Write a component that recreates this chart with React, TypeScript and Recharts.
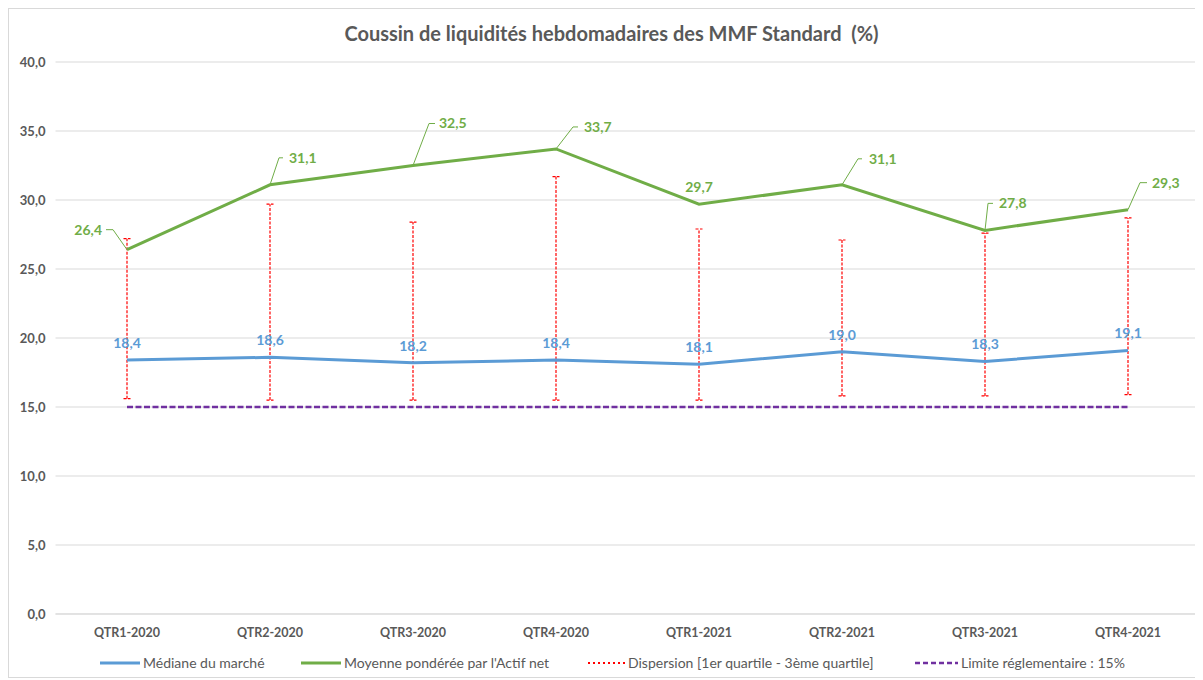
import React from 'react';
import { LineChart, Line, XAxis, YAxis, CartesianGrid, ErrorBar, LabelList } from 'recharts';

const categories = ['QTR1-2020', 'QTR2-2020', 'QTR3-2020', 'QTR4-2020', 'QTR1-2021', 'QTR2-2021', 'QTR3-2021', 'QTR4-2021'];
const medianeMarche = [18.4, 18.6, 18.2, 18.4, 18.1, 19.0, 18.3, 19.1];
const moyennePonderee = [26.4, 31.1, 32.5, 33.7, 29.7, 31.1, 27.8, 29.3];
const quartile1 = [15.6, 15.5, 15.5, 15.5, 15.5, 15.8, 15.8, 15.9];
const quartile3 = [27.2, 29.7, 28.4, 31.7, 27.9, 27.1, 27.6, 28.7];
const limiteReglementaire = [15, 15, 15, 15, 15, 15, 15, 15];
const yTicks = [0, 5, 10, 15, 20, 25, 30, 35, 40];

const titleText = 'Coussin de liquidités hebdomadaires des MMF Standard  (%)';
const legendLabels = [
  'Médiane du marché',
  "Moyenne pondérée par l'Actif net",
  'Dispersion [1er quartile - 3ème quartile]',
  'Limite réglementaire : 15%',
];

// label placement styles for green labels (pixel offsets relative to the point)
const greenLabelStyle = [
  { leader: true, ex: -14, ey: -20, hx: -21, tx: -25, anchor: 'end' },
  { leader: true, ex: 9, ey: -27, hx: 13, tx: 19, anchor: 'start' },
  { leader: true, ex: 16, ey: -42, hx: 22, tx: 26, anchor: 'start' },
  { leader: true, ex: 17, ey: -22, hx: 22, tx: 28, anchor: 'start' },
  { leader: false, ex: 0, ey: -17, hx: 0, tx: 0, anchor: 'middle' },
  { leader: true, ex: 16, ey: -26, hx: 20, tx: 27, anchor: 'start' },
  { leader: true, ex: 3, ey: -27, hx: 8, tx: 14, anchor: 'start' },
  { leader: true, ex: 12, ey: -27, hx: 19, tx: 24, anchor: 'start' },
];

const BLUE = '#5B9BD5';
const GREEN = '#70AD47';
const RED = '#FF0000';
const PURPLE = '#7030A0';
const GRID = '#D9D9D9';
const TEXT = '#595959';
const FONT = 'Lato, "Open Sans", sans-serif';

const fmt = (v: number) => v.toFixed(1).replace('.', ',');

const data = categories.map((c, i) => ({
  cat: c,
  mediane: medianeMarche[i],
  moyenne: moyennePonderee[i],
  dispersion: [medianeMarche[i] - quartile1[i], quartile3[i] - medianeMarche[i]],
  limite: limiteReglementaire[i],
}));

const GreenLabel = (props: any) => {
  const { x, y, value, index } = props;
  const s = greenLabelStyle[index];
  if (!s) return null;
  return (
    <g>
      {s.leader && (
        <polyline
          points={`${x},${y} ${x + s.ex},${y + s.ey} ${x + s.hx},${y + s.ey}`}
          fill="none"
          stroke={GREEN}
          strokeWidth={1}
        />
      )}
      <text
        x={x + s.tx}
        y={y + s.ey}
        dy="0.35em"
        textAnchor={s.anchor}
        fill={GREEN}
        fontSize={14}
        fontWeight={700}
        fontFamily={FONT}
      >
        {fmt(value)}
      </text>
    </g>
  );
};

const BlueLabel = (props: any) => {
  const { x, y, value } = props;
  return (
    <text x={x} y={y - 17} dy="0.35em" textAnchor="middle" fill={BLUE} fontSize={14} fontWeight={700} fontFamily={FONT}>
      {fmt(value)}
    </text>
  );
};

const legendItems = [
  { left: 91, sw: 40, text: legendLabels[0], stroke: BLUE, width: 3, dash: undefined as string | undefined },
  { left: 292, sw: 40, text: legendLabels[1], stroke: GREEN, width: 3, dash: undefined },
  { left: 579, sw: 37, text: legendLabels[2], stroke: RED, width: 2, dash: '2 3' },
  { left: 906, sw: 43, text: legendLabels[3], stroke: PURPLE, width: 2.5, dash: '5 3' },
];

export default function App() {
  return (
    <div
      style={{
        position: 'relative',
        width: 1195,
        height: 670,
        boxSizing: 'border-box',
        border: `1px solid ${GRID}`,
        background: '#fff',
        fontFamily: FONT,
      }}
    >
      <div
        style={{
          position: 'absolute',
          left: 0,
          top: 12,
          width: '100%',
          paddingLeft: 12,
          boxSizing: 'border-box',
          textAlign: 'center',
          fontSize: 20,
          lineHeight: '24px',
          fontWeight: 700,
          color: TEXT,
          whiteSpace: 'pre',
        }}
      >
        {titleText}
      </div>
      <LineChart
        width={1193}
        height={668}
        data={data}
        margin={{ top: 53, right: 2.5, left: 0, bottom: 33 }}
      >
        <CartesianGrid vertical={false} stroke={GRID} strokeWidth={1} />
        <XAxis
          dataKey="cat"
          height={30}
          padding={{ left: 71.5, right: 71.5 }}
          axisLine={{ stroke: GRID }}
          tickLine={false}
          tickSize={0}
          tickMargin={14}
          tick={{ fill: TEXT, fontSize: 12.5, fontWeight: 700, fontFamily: FONT }}
          interval={0}
        />
        <YAxis
          width={46.5}
          domain={[0, 40]}
          ticks={yTicks}
          axisLine={false}
          tickLine={false}
          tickSize={0}
          tickMargin={10}
          tickFormatter={fmt}
          tick={{ fill: TEXT, fontSize: 13, fontWeight: 700, fontFamily: FONT }}
        />
        <Line
          dataKey="limite"
          stroke={PURPLE}
          strokeWidth={2.5}
          strokeDasharray="6 2.5"
          dot={false}
          activeDot={false}
          isAnimationActive={false}
        />
        <Line
          dataKey="mediane"
          stroke={BLUE}
          strokeWidth={3}
          dot={false}
          activeDot={false}
          isAnimationActive={false}
        >
          <ErrorBar
            dataKey="dispersion"
            direction="y"
            width={3.5}
            stroke={RED}
            strokeWidth={1.2}
            strokeDasharray="3 1.5"
            isAnimationActive={false}
          />
          <LabelList dataKey="mediane" content={BlueLabel} />
        </Line>
        <Line
          dataKey="moyenne"
          stroke={GREEN}
          strokeWidth={3}
          dot={false}
          activeDot={false}
          isAnimationActive={false}
        >
          <LabelList dataKey="moyenne" content={GreenLabel} />
        </Line>
      </LineChart>
      {legendItems.map((it, i) => (
        <div
          key={i}
          style={{
            position: 'absolute',
            left: it.left,
            top: 646,
            height: 16,
            display: 'flex',
            alignItems: 'center',
            whiteSpace: 'nowrap',
          }}
        >
          <svg width={it.sw} height={6} style={{ display: 'block' }}>
            <line
              x1={0}
              y1={3}
              x2={it.sw}
              y2={3}
              stroke={it.stroke}
              strokeWidth={it.width}
              strokeDasharray={it.dash}
            />
          </svg>
          <span style={{ marginLeft: 3, fontSize: 14, color: TEXT, lineHeight: '16px' }}>{it.text}</span>
        </div>
      ))}
    </div>
  );
}
